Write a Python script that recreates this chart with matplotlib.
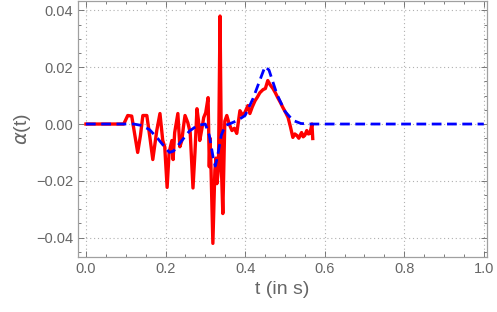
import matplotlib.pyplot as plt
from matplotlib.ticker import MultipleLocator

# measured signal (red)
t_meas = [0.0, 0.09, 0.095, 0.105, 0.115, 0.13, 0.137, 0.143, 0.153, 0.161,
          0.168, 0.178, 0.186, 0.193, 0.198, 0.204, 0.209, 0.216, 0.219, 0.223,
          0.231, 0.236, 0.241, 0.245, 0.249, 0.256, 0.262, 0.269, 0.274, 0.279,
          0.283, 0.286, 0.291, 0.296, 0.301, 0.307, 0.31, 0.312, 0.314, 0.319,
          0.324, 0.327, 0.329, 0.333, 0.337, 0.341, 0.344, 0.349, 0.354, 0.36,
          0.367, 0.373, 0.379, 0.387, 0.394, 0.400, 0.407, 0.412, 0.418, 0.425,
          0.431, 0.437, 0.445, 0.451, 0.457, 0.463, 0.470, 0.476, 0.482, 0.489,
          0.495, 0.502, 0.508, 0.514, 0.520, 0.525, 0.530, 0.535, 0.539, 0.542,
          0.546, 0.550, 0.555, 0.559, 0.563, 0.568, 0.570]
a_meas = [0.0, 0.0, 0.0, 0.0030, 0.0028, -0.0100, -0.0040, 0.0030, 0.0030, -0.0050,
          -0.0125, -0.0023, 0.0037, -0.0058, -0.0080, -0.0223, -0.0100, -0.0058, -0.0125, -0.0030,
          0.0037, -0.0080, -0.0058, -0.0010, 0.0030, 0.0005, -0.0030, -0.0225, -0.0100, 0.0054,
          0.0010, -0.0058, -0.0020, 0.0023, 0.0040, 0.0093, -0.0150, -0.0050, -0.0140, -0.0420,
          -0.0163, -0.0120, -0.0210, -0.0160, 0.0380, -0.0180, -0.0315, 0.0010, 0.0030, 0.0000,
          -0.0023, -0.0015, -0.0033, 0.0047, 0.0030, 0.0042, 0.0065, 0.0037, 0.0060, 0.0082,
          0.0095, 0.0110, 0.0121, 0.0125, 0.0153, 0.0138, 0.0125, 0.0110, 0.0093, 0.0075,
          0.0058, 0.0040, 0.0023, -0.0010, -0.0047, -0.0035, -0.0040, -0.0050, -0.0038, -0.0030,
          -0.0045, -0.0040, -0.0023, -0.0035, -0.0033, 0.0000, -0.0051]

# model (blue dashed)
t_model = [0.0, 0.10, 0.12, 0.14, 0.16, 0.18, 0.20, 0.21, 0.22, 0.24,
           0.26, 0.28, 0.30, 0.31, 0.32, 0.325, 0.33, 0.34, 0.35, 0.36,
           0.38, 0.40, 0.42, 0.44, 0.45, 0.46, 0.48, 0.50, 0.52, 0.54,
           0.56, 1.0]
a_model = [0.0, 0.0, 0.0, -0.0005, -0.0020, -0.0050, -0.0085, -0.0100, -0.0095, -0.0060,
           -0.0025, -0.0005, 0.0, -0.0040, -0.0120, -0.0148, -0.0120, -0.0040, -0.0005, 0.0,
           0.0012, 0.0030, 0.0090, 0.0165, 0.0202, 0.0190, 0.0105, 0.0045, 0.0013, 0.0002,
           0.0, 0.0]

plt.rcParams['font.family'] = ['Liberation Sans', 'DejaVu Sans']
gray = '#666666'

fig = plt.figure(figsize=(4.97, 3.12), dpi=100)
ax = fig.add_axes([78 / 497, 55 / 312, 409 / 497, 256 / 312])

ax.plot(t_meas, a_meas, color='#ff0000', lw=2.4, zorder=3)
ax.plot(t_model, a_model, color='#0000ff', lw=2.0, ls=(0, (3.5, 2)), zorder=4)

ax.set_xlim(-0.02, 1.008)
ax.set_ylim(-0.0468, 0.0433)
ax.xaxis.set_major_locator(MultipleLocator(0.2))
ax.xaxis.set_minor_locator(MultipleLocator(0.05))
ax.yaxis.set_major_locator(MultipleLocator(0.02))
ax.yaxis.set_minor_locator(MultipleLocator(0.005))
ax.xaxis.set_major_formatter(plt.FuncFormatter(lambda v, p: f"{v:.1f}"))
ax.yaxis.set_major_formatter(plt.FuncFormatter(
    lambda v, p: f"{v:.2f}".replace('-', '\u2212') if abs(v) > 1e-9 else "0.00"))

ax.grid(True, which='major', color='#b0b0b0', ls=(0, (1, 2.5)), lw=0.8)
ax.tick_params(which='both', direction='in', top=True, right=True,
               colors=gray, labelcolor=gray, labelsize=10.5, width=0.6)
ax.tick_params(which='major', length=4)
ax.tick_params(which='minor', length=2)
for s in ax.spines.values():
    s.set_color('#a0a0a0')
    s.set_linewidth(0.9)

ax.set_xlabel('t (in s)', fontsize=14, color=gray, labelpad=4)
ax.set_ylabel(r'$\alpha$(t)', fontsize=14, color=gray, labelpad=2)

fig.savefig('out.png', dpi=100)
